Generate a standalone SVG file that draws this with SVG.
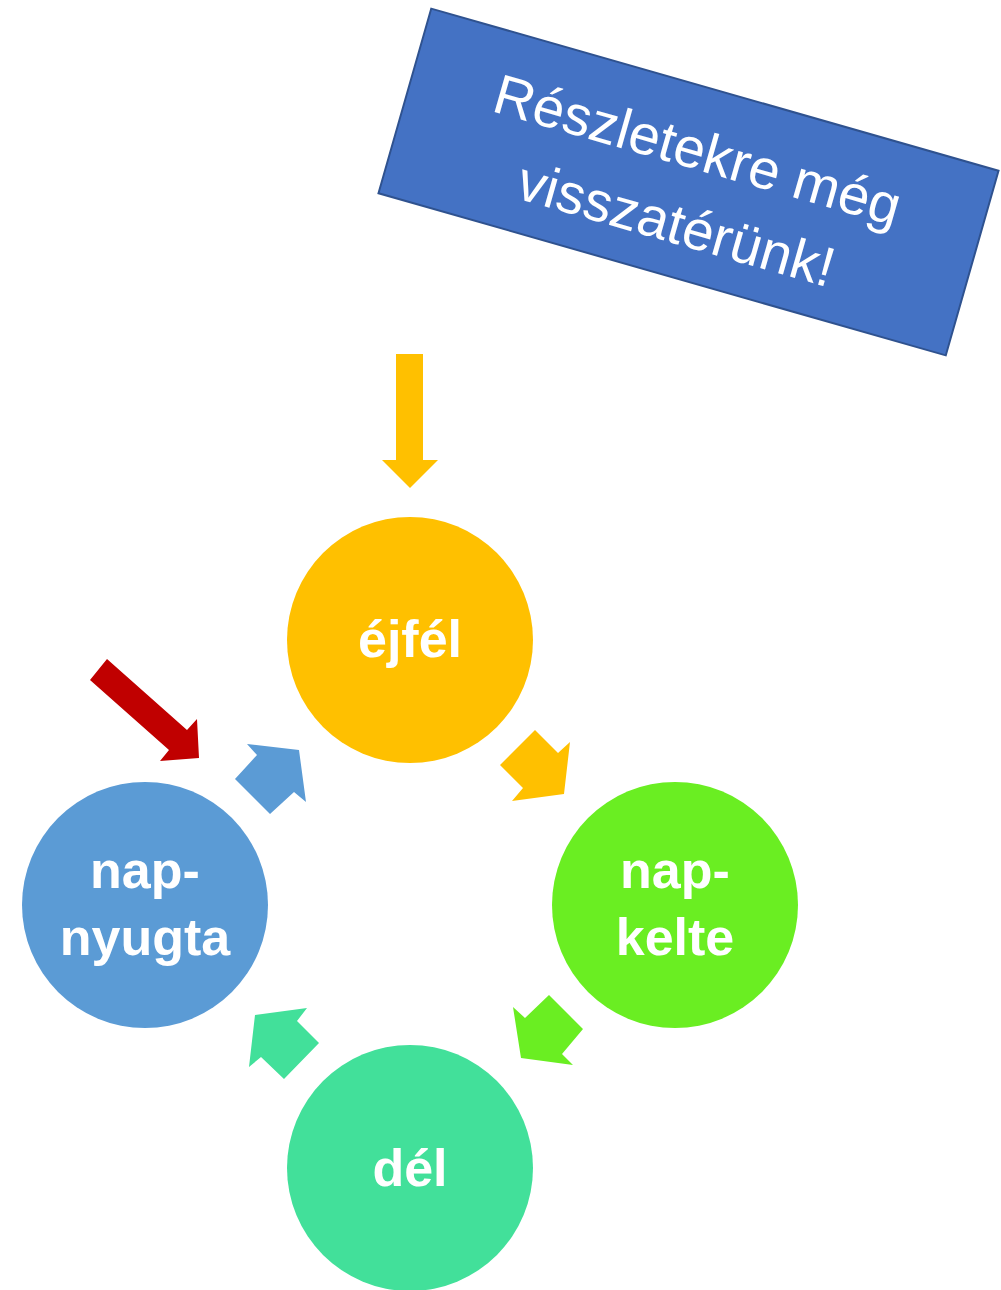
<svg xmlns="http://www.w3.org/2000/svg" width="1001" height="1290" viewBox="0 0 1001 1290">
<style>
.lbl{font-family:"Liberation Sans",Arial,sans-serif;font-weight:bold;font-size:52px;fill:#fff;text-anchor:middle}
.note{font-family:"Liberation Sans",Arial,sans-serif;font-size:56px;fill:#fff;text-anchor:middle}
</style>
<rect width="1001" height="1290" fill="#fff"/>
<g id="note" transform="translate(688.5,182) rotate(15.95)">
<rect x="-295" y="-96" width="590" height="192" fill="#4472C4" stroke="#2F528F" stroke-width="2"/>
<text class="note" x="0" y="-14">Részletekre még</text>
<text class="note" x="0" y="63">visszatérünk!</text>
</g>
<g id="connectors">
<polygon points="396,354 423,354 423,460 438,460 410,488 382,460 396,460" fill="#FFC000"/>
<polygon points="90,680 107,659 187,730 197,719 199,758 160,761 169,750" fill="#C00000"/>
<polygon points="535,730 558,753 570,742 564,794 512,801 523,788 500,765" fill="#FFC000"/>
<polygon points="513,1007 525,1018 549,995 583,1029 562,1054 573,1065 521,1058" fill="#6AEE22"/>
<polygon points="255,1015 307,1008 297,1021 319,1043 284,1079 261,1057 249,1067" fill="#42E09A"/>
<polygon points="247,744 299,750 306,802 294,792 270,814 235,779 257,755" fill="#5B9BD5"/>
</g>
<g id="ejfel">
<circle cx="410" cy="640" r="123" fill="#FFC000"/>
<text class="lbl" x="410" y="657">éjfél</text>
</g>
<g id="napkelte">
<circle cx="675" cy="905" r="123" fill="#6AEE22"/>
<text class="lbl" x="675" y="888">nap-</text>
<text class="lbl" x="675" y="955">kelte</text>
</g>
<g id="del">
<circle cx="410" cy="1168" r="123" fill="#42E09A"/>
<text class="lbl" x="410" y="1186">dél</text>
</g>
<g id="napnyugta">
<circle cx="145" cy="905" r="123" fill="#5B9BD5"/>
<text class="lbl" x="145" y="888">nap-</text>
<text class="lbl" x="145" y="955">nyugta</text>
</g>
</svg>
